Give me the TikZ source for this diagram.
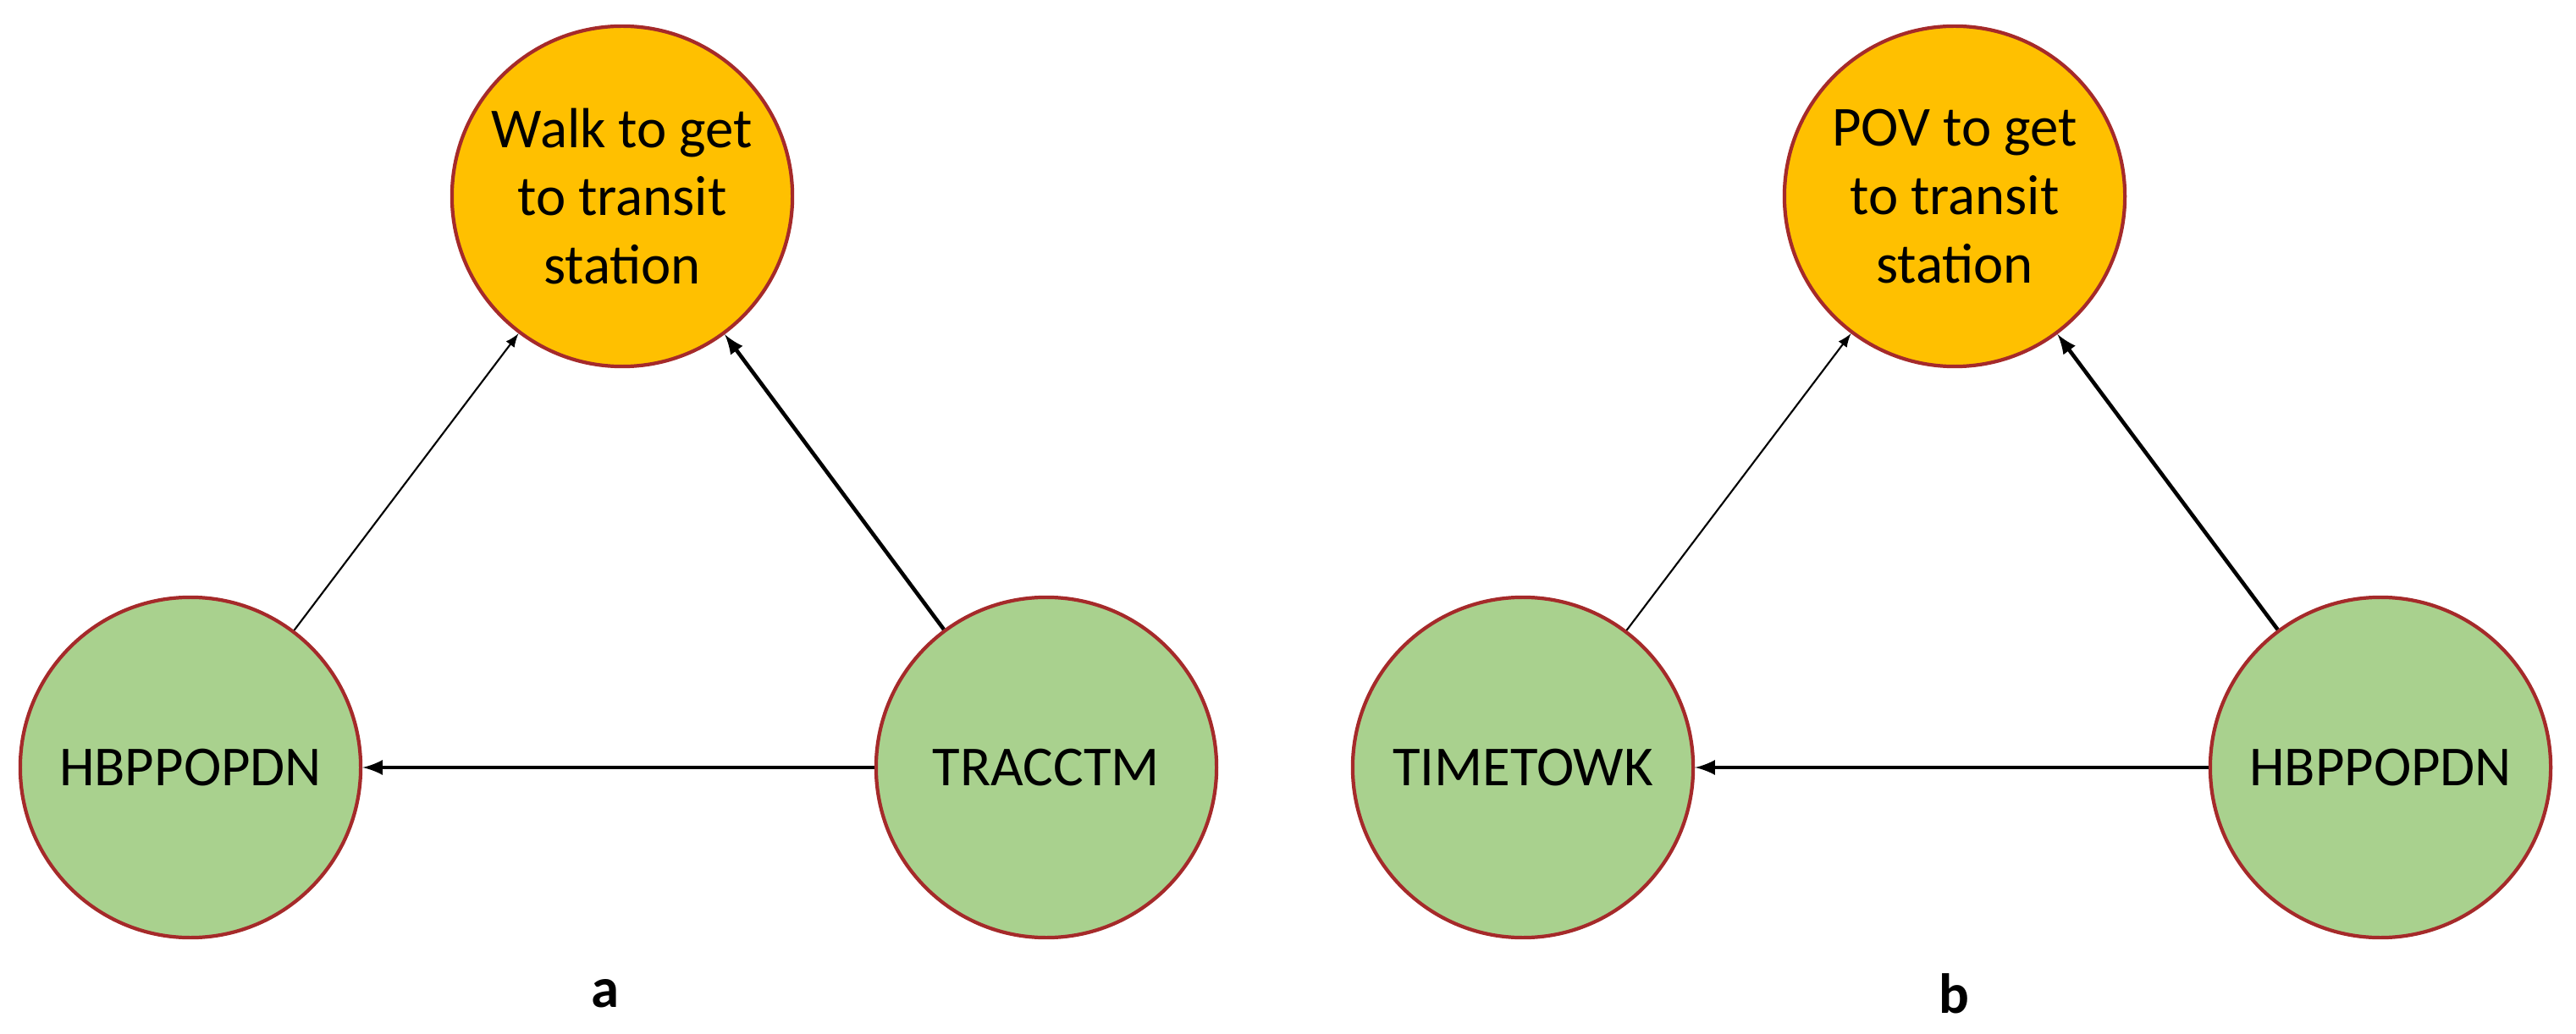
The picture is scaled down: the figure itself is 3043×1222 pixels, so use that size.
\documentclass[tikz,border=0pt]{standalone}
\usepackage{fontspec}
\setmainfont{Carlito}
\definecolor{orng}{HTML}{FFC000}
\definecolor{grn}{HTML}{A9D18E}
\definecolor{bord}{HTML}{A52A2A}
\begin{document}
\begin{tikzpicture}[x=0.01cm,y=-0.01cm,
  nd/.style={circle,draw=bord,line width=1.2pt,minimum size=4.02cm,inner sep=0pt,align=center,font=\fontsize{19}{23}\selectfont},
  topn/.style={nd,fill=orng},
  botn/.style={nd,fill=grn},
  thin arrow/.style={-latex,line width=0.6pt},
  thick arrow/.style={-latex,line width=1.3pt},
  lab/.style={font=\fontsize{19}{23}\selectfont\bfseries}]
\useasboundingbox (0,0) rectangle (3043,1222);
\node[topn] (wa) at (735,232) {Walk to get\\to transit\\station};
\node[botn] (ha) at (225,907) {HBPPOPDN};
\node[botn] (ta) at (1236,907) {TRACCTM};
\draw[thin arrow] (ha) -- (wa);
\draw[thick arrow] (ta) -- (wa);
\draw[thick arrow] (ta) -- (ha);
\node[lab] (la) at (715,1174) {a};
\node[topn] (pb) at (2309,232) {POV to get\\to transit\\station};
\node[botn] (tb) at (1799,907) {TIMETOWK};
\node[botn] (hb) at (2812,907) {HBPPOPDN};
\draw[thin arrow] (tb) -- (pb);
\draw[thick arrow] (hb) -- (pb);
\draw[thick arrow] (hb) -- (tb);
\node[lab] (lb) at (2308,1174) {b};
\end{tikzpicture}
\end{document}
